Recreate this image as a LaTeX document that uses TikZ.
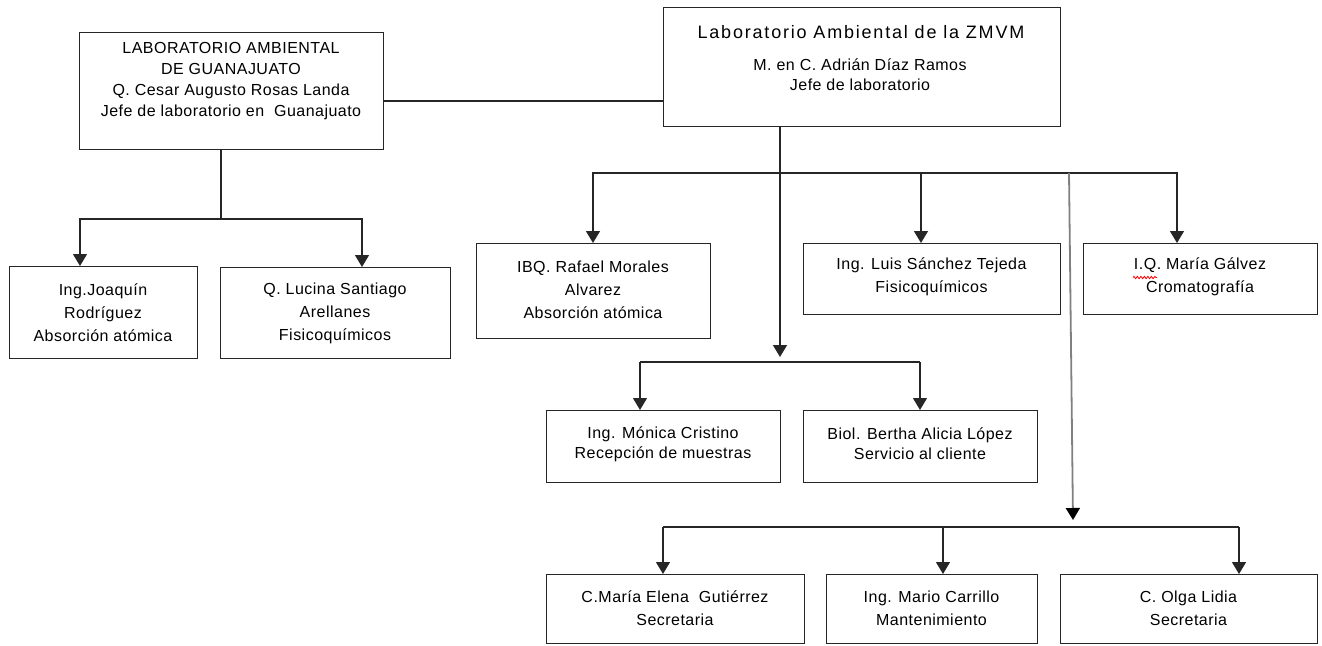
\documentclass[tikz,border=0pt]{standalone}
\usepackage{fontspec}
\setmainfont{Liberation Sans}
\newfontfamily\bodyfont{Liberation Sans}[LetterSpace=3]
\newfontfamily\titlefont{Liberation Sans}[LetterSpace=10]
\usetikzlibrary{arrows.meta,decorations.pathmorphing}
\tikzset{
  box/.style={draw=black!85, line width=1.4pt, rectangle, inner sep=0pt, anchor=north west},
  txt/.style={align=center, inner sep=0pt, text=black},
  tA/.style={txt, font=\bodyfont\fontsize{16}{21}\selectfont},
  tB/.style={txt, font=\bodyfont\fontsize{16}{23}\selectfont},
  tC/.style={txt, font=\bodyfont\fontsize{16}{20}\selectfont},
  ttl/.style={txt, font=\titlefont\fontsize{18}{20}\selectfont},
  ln/.style={draw=black!85, line width=1.4pt},
  arr/.style={ln, -{Triangle[width=14pt,length=12pt]}},
  grayarr/.style={draw=black!50, line width=1.8pt, -{Triangle[width=14pt,length=12pt,color=black]}}
}
\begin{document}
\begin{tikzpicture}[x=1pt,y=-1pt]
\useasboundingbox (0,0) rectangle (1322,645);
% boxes
\node[box, minimum width=304pt, minimum height=117pt] (gto) at (79,32) {};
\node[box, minimum width=397pt, minimum height=119pt] (zmvm) at (663,7) {};
\node[box, minimum width=188pt, minimum height=92pt] (joaq) at (9,266) {};
\node[box, minimum width=230pt, minimum height=91pt] (luc) at (220,267) {};
\node[box, minimum width=234pt, minimum height=95pt] (ibq) at (476,243) {};
\node[box, minimum width=257pt, minimum height=71pt] (luis) at (803,243) {};
\node[box, minimum width=234pt, minimum height=71pt] (galv) at (1083,243) {};
\node[box, minimum width=234pt, minimum height=72pt] (mon) at (546,410) {};
\node[box, minimum width=234pt, minimum height=72pt] (biol) at (803,410) {};
\node[box, minimum width=258pt, minimum height=69pt] (cmar) at (546,574) {};
\node[box, minimum width=211pt, minimum height=69pt] (mario) at (826,574) {};
\node[box, minimum width=257pt, minimum height=69pt] (olga) at (1060,574) {};
% texts
\node[tA] (gto-t) at (231,81.5) {LABORATORIO AMBIENTAL\\DE GUANAJUATO\\Q. Cesar Augusto Rosas Landa\\Jefe de laboratorio en\ \ Guanajuato};
\node[ttl] (zmvm-t1) at (861,32) {Laboratorio Ambiental de la ZMVM};
\node[tC] (zmvm-t2) at (860,75) {M. en C. Adrián Díaz Ramos\\Jefe de laboratorio};
\node[tB] (joaq-t) at (103,313) {Ing.Joaquín\\Rodríguez\\Absorción atómica};
\node[tB] (luc-t) at (335,313) {Q. Lucina Santiago\\Arellanes\\Fisicoquímicos};
\node[tB] (ibq-t) at (593,290) {IBQ. Rafael Morales\\Alvarez\\Absorción atómica};
\node[tB] (luis-t) at (931.5,276.5) {Ing. Luis Sánchez Tejeda\\Fisicoquímicos};
\node[tB] (galv-t) at (1200,276.5) {I.Q. María Gálvez\\Cromatografía};
\node[tC] (mon-t) at (663,444) {Ing. Mónica Cristino\\Recepción de muestras};
\node[tC] (biol-t) at (920,444) {Biol. Bertha Alicia López\\Servicio al cliente};
\node[tB] (cmar-t) at (675,608.5) {C.María Elena\ \ Gutiérrez\\Secretaria};
\node[tB] (mario-t) at (931.5,608.5) {Ing. Mario Carrillo\\Mantenimiento};
\node[tB] (olga-t) at (1188.5,608.5) {C. Olga Lidia\\Secretaria};
% spell-check squiggle
\draw[red, line width=0.8pt, decorate, decoration={zigzag, segment length=3.5pt, amplitude=1.2pt}] (1133,277.5) -- (1157,277.5);
% junction coordinates
\coordinate (gj) at (221,219);
\coordinate (gL) at (80,219);
\coordinate (gR) at (362,219);
\coordinate (zj) at (780,173);
\coordinate (aIBQ) at (593,173);
\coordinate (aLuis) at (921,173);
\coordinate (aGal) at (1177,173);
\coordinate (mtip) at (780,357);
\coordinate (mj) at (780,362);
\coordinate (mL) at (640,362);
\coordinate (mR) at (920,362);
\coordinate (gtop) at (1069,173);
\coordinate (gtip) at (1073,520);
\coordinate (bj) at (1073,527);
\coordinate (bL) at (663,527);
\coordinate (bM) at (943,527);
\coordinate (bR) at (1239,527);
% connectors
\draw[ln] (gto.east |- 0,101) -- (zmvm.west |- 0,101);
\draw[ln] (gto.south -| gj) -- (gj);
\draw[arr] (gj) -| (joaq.north -| gL);
\draw[arr] (gj) -| (luc.north -| gR);
\draw[ln] (zmvm.south -| zj) -- (zj);
\draw[arr] (zj) -| (ibq.north -| aIBQ);
\draw[arr] (zj) -| (luis.north -| aLuis);
\draw[arr] (zj) -| (galv.north -| aGal);
\draw[arr] (zj) -- (mtip);
\draw[ln] (mL) -- (mR);
\draw[arr] (mL) -- (mon.north -| mL);
\draw[arr] (mR) -- (biol.north -| mR);
\draw[grayarr] (gtop) -- (gtip);
\draw[ln] (bL) -- (bR);
\draw[arr] (bL) -- (cmar.north -| bL);
\draw[arr] (bM) -- (mario.north -| bM);
\draw[arr] (bR) -- (olga.north -| bR);
\end{tikzpicture}
\end{document}
